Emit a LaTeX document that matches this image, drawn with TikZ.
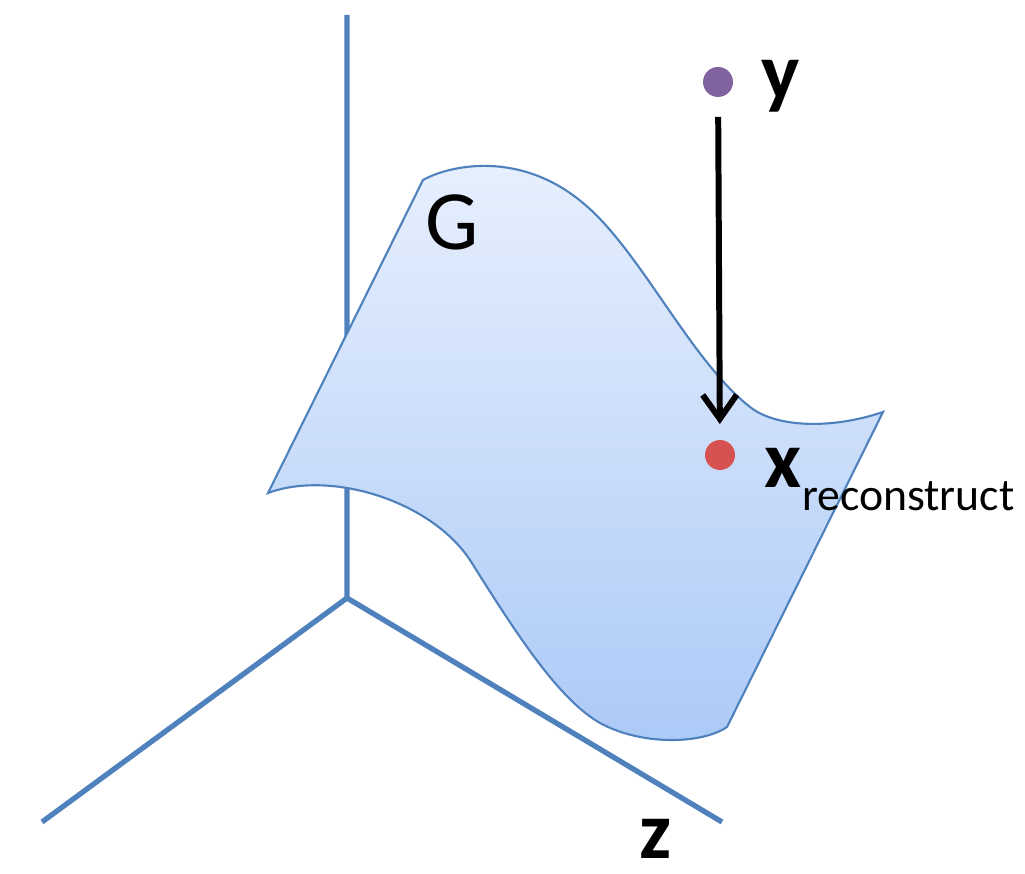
\documentclass[tikz,border=0pt]{standalone}
\usepackage{fontspec}
\setmainfont{Carlito}
\usetikzlibrary{arrows.meta}
\definecolor{axisblue}{RGB}{79,129,189}
\definecolor{sheettop}{RGB}{232,240,253}
\definecolor{sheetbot}{RGB}{172,202,247}
\definecolor{ydot}{RGB}{128,100,162}
\definecolor{xdot}{RGB}{214,82,80}

\begin{document}
\begin{tikzpicture}[x=0.01cm,y=-0.01cm,line width=1.1pt,>={Straight Barb[length=2.4mm,width=3.4mm]},
  dot/.style={circle,inner sep=0pt,minimum size=0.3cm},
  lbl/.style={font=\fontsize{23}{23}\selectfont\bfseries,anchor=base west,inner sep=0pt}]
  \useasboundingbox (0,0) rectangle (1025,874);
  % axes
  \coordinate (o) at (347,598);
  \coordinate (up) at (347,15);
  \coordinate (lf) at (42,822);
  \coordinate (rt) at (722,822);
  \draw[axisblue,line width=1.5pt] (up)--(o)--(lf) (o)--(rt);
  % the sheet G
  \draw[axisblue,line width=0.6pt,top color=sheettop,bottom color=sheetbot]
    (423,180) .. controls (450,165) and (520,150) .. (583,203)
    .. controls (640,250) and (690,360) .. (750,407)
    .. controls (775,427) and (830,430) .. (883,412)
    -- (727,727)
    .. controls (700,745) and (640,745) .. (600,723)
    .. controls (560,700) and (520,640) .. (470,560)
    .. controls (430,500) and (330,470) .. (268,493) -- cycle;
  \node[font=\fontsize{24}{24}\selectfont] (g) at (452,222) {G};
  % y projected onto G
  \node[dot,fill=ydot] (y) at (718,82) {};
  \node[dot,fill=xdot] (xr) at (720,455) {};
  \draw[->,line width=1.7pt,shorten <=0.18cm,shorten >=0.14cm] (y)--(xr);
  \node[lbl] (ylbl) at (760,100) {y};
  \node[lbl] (xlbl) at (763,488) {x\raisebox{-6.3pt}{\fontsize{13}{13}\mdseries\selectfont reconstruct}};
  \node[lbl] (zlbl) at (638,858) {z};
\end{tikzpicture}
\end{document}
